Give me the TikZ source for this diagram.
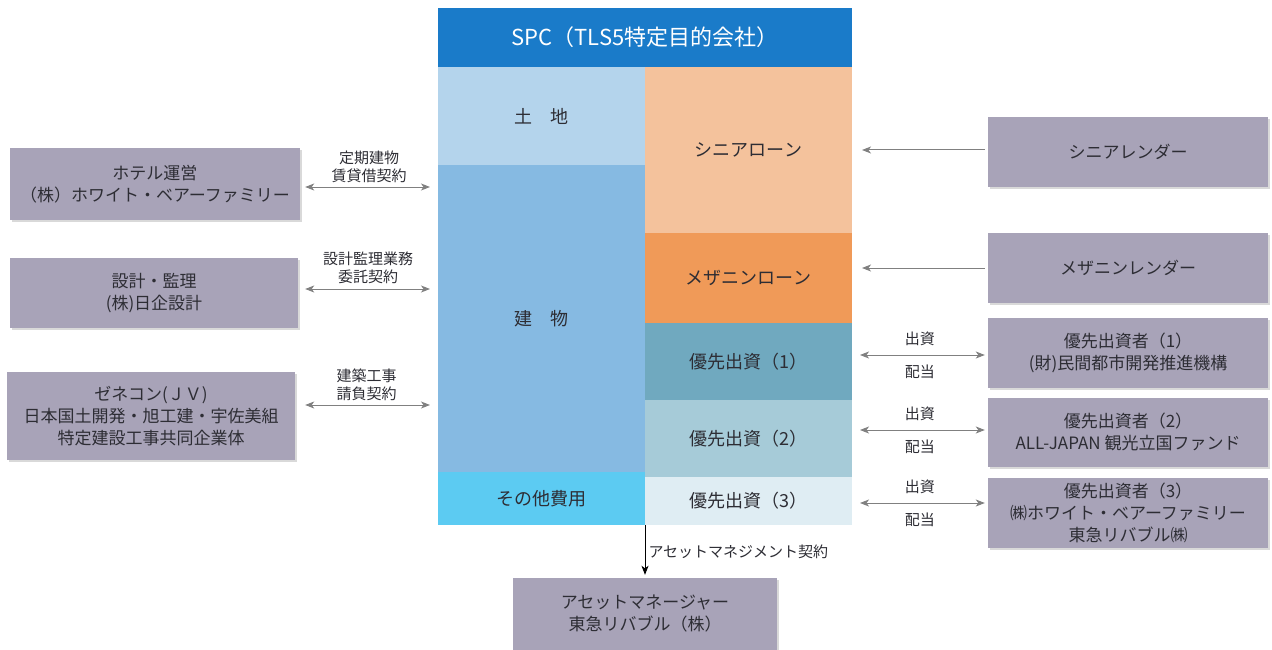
\documentclass[tikz,border=0pt]{standalone}
\usepackage{fontspec}
\setmainfont{Noto Sans CJK JP}
\usetikzlibrary{arrows.meta,positioning,shadows}
\definecolor{cHead}{RGB}{26,123,201}
\definecolor{cLand}{RGB}{180,212,236}
\definecolor{cBldg}{RGB}{134,186,226}
\definecolor{cOther}{RGB}{92,203,242}
\definecolor{cSenior}{RGB}{244,194,156}
\definecolor{cMezz}{RGB}{240,154,88}
\definecolor{cPrefA}{RGB}{112,169,191}
\definecolor{cPrefB}{RGB}{166,203,216}
\definecolor{cPrefC}{RGB}{223,237,243}
\definecolor{cParty}{RGB}{168,163,184}
\definecolor{cText}{RGB}{45,45,52}
\definecolor{cArrow}{RGB}{128,128,128}
\tikzstyle{line} = [draw, cArrow, -{Stealth[length=9pt,width=7pt,inset=2.5pt]}, line width=1pt]
\tikzstyle{dline} = [draw, cArrow, {Stealth[length=9pt,width=7pt,inset=2.5pt]}-{Stealth[length=9pt,width=7pt,inset=2.5pt]}, line width=1pt]

\begin{document}
\begin{tikzpicture}[x=1pt,y=-1pt,
    cell/.style={
      anchor=north west,
      minimum width=207pt,
      inner sep=0pt,
      outer sep=0pt,
      text=cText,
      font=\fontsize{18}{22}\selectfont,
    },
    party/.style={
      fill=cParty,
      minimum width=280pt,
      minimum height=70pt,
      align=center,
      text=cText,
      font=\fontsize{17}{22}\selectfont,
      drop shadow={opacity=.3,shadow xshift=1.5pt,shadow yshift=-2pt},
    },
    lbl/.style={
      align=center,
      text=cText,
      inner sep=1pt,
      font=\fontsize{15}{18}\selectfont,
    },
  ]
  \useasboundingbox (0,0) rectangle (1272,650);

  % SPC
  \node[cell,fill=cHead,minimum width=414pt,minimum height=59pt,
    text=white,font=\fontsize{22}{24}\selectfont] (spc) at (438,8)
    {SPC（TLS5特定目的会社）};
  \node[cell,fill=cLand,minimum height=98pt,below right=0pt and 0pt of spc.south west] (land) {土\hspace{1em}地};
  \node[cell,fill=cBldg,minimum height=307pt,below=0pt of land] (bldg) {建\hspace{1em}物};
  \node[cell,fill=cOther,minimum height=53pt,below=0pt of bldg] (other) {その他費用};
  \node[cell,fill=cSenior,minimum height=166pt,below right=0pt and 0pt of land.north east] (senior) {シニアローン};
  \node[cell,fill=cMezz,minimum height=90pt,below=0pt of senior] (mezz) {メザニンローン};
  \node[cell,fill=cPrefA,minimum height=77pt,below=0pt of mezz] (prefa) {優先出資（1）};
  \node[cell,fill=cPrefB,minimum height=77pt,below=0pt of prefa] (prefb) {優先出資（2）};
  \node[cell,fill=cPrefC,minimum height=48pt,below=0pt of prefb] (prefc) {優先出資（3）};

  % left parties
  \node[party,minimum width=290pt,minimum height=72pt] (hotel) at (155,184) {ホテル運営\\（株）ホワイト・ベアーファミリー};
  \node[party,minimum width=288pt] (design) at (154,293) {設計・監理\\(株)日企設計};
  \node[party,minimum width=288pt,minimum height=88pt] (genecon) at (151,416) {ゼネコン(ＪＶ)\\日本国土開発・旭工建・宇佐美組\\特定建設工事共同企業体};

  % right parties
  \node[party] (slender) at (1128,152) {シニアレンダー};
  \node[party] (mlender) at (1128,268) {メザニンレンダー};
  \node[party] (inva) at (1128,353) {優先出資者（1）\\(財)民間都市開発推進機構};
  \node[party,minimum height=69pt] (invb) at (1128,432) {優先出資者（2）\\ALL-JAPAN 観光立国ファンド};
  \node[party] (invc) at (1128,513) {優先出資者（3）\\㈱ホワイト・ベアーファミリー\\東急リバブル㈱};

  % asset manager
  \node[party,minimum width=264pt,minimum height=72pt] (am) at (645,614) {アセットマネージャー\\東急リバブル（株）};

  % contracts
  \draw[dline,shorten <=5pt,shorten >=8pt] ([yshift=-3pt]hotel.east) -- ([yshift=-3pt]hotel.east -| bldg.west)
    node[lbl,midway,above=3pt] {定期建物\\賃貸借契約};
  \draw[dline,shorten <=7pt,shorten >=8pt] ([yshift=4pt]design.east) -- ([yshift=4pt]design.east -| bldg.west)
    node[lbl,midway,above=4pt] {設計監理業務\\委託契約};
  \draw[dline,shorten <=10pt,shorten >=8pt] ([yshift=11pt]genecon.east) -- ([yshift=11pt]genecon.east -| bldg.west)
    node[lbl,midway,above=3pt] {建築工事\\請負契約};

  % loans
  \draw[line,shorten <=3pt,shorten >=10pt] (slender.west |- senior.east) -- (senior.east);
  \draw[line,shorten <=3pt,shorten >=10pt] (mlender.west) -- (mlender.west -| mezz.east);

  % preferred equity
  \draw[dline,shorten <=3pt,shorten >=8pt] ([yshift=-2pt]inva.west) -- ([yshift=-2pt]inva.west -| prefa.east)
    node[lbl,midway,above=8pt] {出資} node[lbl,midway,below=8pt] {配当};
  \draw[dline,shorten <=3pt,shorten >=8pt] ([yshift=2pt]invb.west) -- ([yshift=2pt]invb.west -| prefb.east)
    node[lbl,midway,above=8pt] {出資} node[lbl,midway,below=8pt] {配当};
  \draw[dline,shorten <=3pt,shorten >=8pt] ([yshift=10pt]invc.west) -- ([yshift=10pt]invc.west -| prefc.east)
    node[lbl,midway,above=8pt] {出資} node[lbl,midway,below=8pt] {配当};

  % asset management
  \draw[line,black,shorten >=3pt] (other.south east) -- (am.north)
    node[lbl,midway,right=2pt] {アセットマネジメント契約};

\end{tikzpicture}
\end{document}
